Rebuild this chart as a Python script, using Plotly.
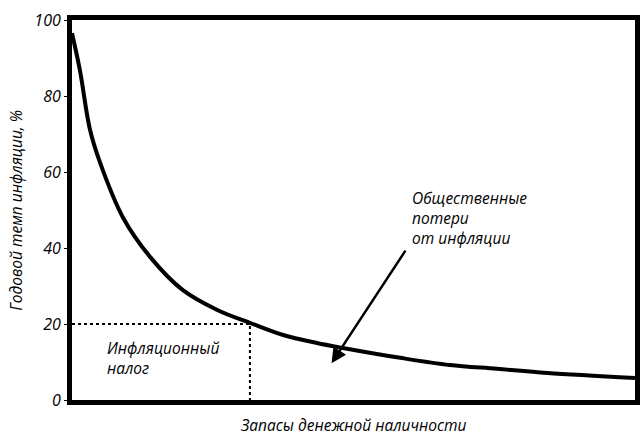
import plotly.graph_objects as go

# Curve: money holdings (x, arbitrary units) vs annual inflation rate (%)
money_stock = [0, 1.4, 3.2, 5.0, 9.1, 13.9, 19.7, 25.8, 31.6, 37.5, 43.5, 48.1, 58.3, 67.1, 75.5, 84.4, 100]
inflation = [96.5, 86.8, 71.1, 62.4, 47.9, 37.6, 28.9, 23.7, 20.3, 17.1, 15.0, 13.7, 11.1, 9.2, 8.2, 7.1, 5.8]

# Reference point for the inflation tax rectangle
tax_x = 31.6
tax_y = 20

y_ticks = [0, 20, 40, 60, 80, 100]

FONT = "Open Sans"

fig = go.Figure()

fig.add_trace(go.Scatter(
    x=[0, tax_x, tax_x], y=[tax_y, tax_y, 0], mode="lines",
    line=dict(color="black", width=2, dash="dot"), hoverinfo="skip", showlegend=False,
))
fig.add_trace(go.Scatter(
    x=money_stock, y=inflation, mode="lines",
    line=dict(color="black", width=4, shape="spline", smoothing=1.0),
    showlegend=False,
))

fig.add_annotation(
    x=46.1, y=9.7, ax=59.4, ay=39.7, xref="x", yref="y", axref="x", ayref="y",
    showarrow=True, arrowhead=2, arrowsize=1.2, arrowwidth=2.5, arrowcolor="black", text="",
)
fig.add_annotation(
    x=60.0, y=56.5, xref="x", yref="y", xanchor="left", yanchor="top", align="left",
    text="Общественные<br>потери<br>от инфляции", showarrow=False,
    font=dict(family=FONT, size=15.5, color="black", style="italic"),
)
fig.add_annotation(
    x=5.8, y=17.0, xref="x", yref="y", xanchor="left", yanchor="top", align="left",
    text="Инфляционный<br>налог", showarrow=False,
    font=dict(family=FONT, size=15.5, color="black", style="italic"),
)
fig.add_annotation(
    x=0.5, y=-0.066, xref="paper", yref="paper", xanchor="center", yanchor="middle",
    text="Запасы денежной наличности", showarrow=False,
    font=dict(family=FONT, size=15.5, color="black", style="italic"),
)
fig.add_annotation(
    x=-0.1, y=0.5, xref="paper", yref="paper", xanchor="center", yanchor="middle",
    text="Годовой темп инфляции, %", showarrow=False, textangle=-90,
    font=dict(family=FONT, size=15.5, color="black", style="italic"),
)

fig.update_layout(
    width=644, height=438,
    margin=dict(l=72, r=9, t=20, b=38),
    paper_bgcolor="white", plot_bgcolor="white",
    xaxis=dict(range=[0, 100], showgrid=False, zeroline=False, showticklabels=False,
               ticks="", showline=True, linecolor="black", linewidth=5, mirror=True,
               automargin=False),
    yaxis=dict(range=[0, 100], showgrid=False, zeroline=False, tickvals=y_ticks,
               ticks="outside", ticklen=3, tickcolor="black", tickwidth=1,
               showline=True, linecolor="black", linewidth=5, mirror=True,
               automargin=False,
               tickfont=dict(family=FONT, size=16, color="black", style="italic")),
)

fig.write_html("out.html", config={"displayModeBar": False},
               post_script="document.body.style.margin='0';document.body.style.overflow='hidden';")
